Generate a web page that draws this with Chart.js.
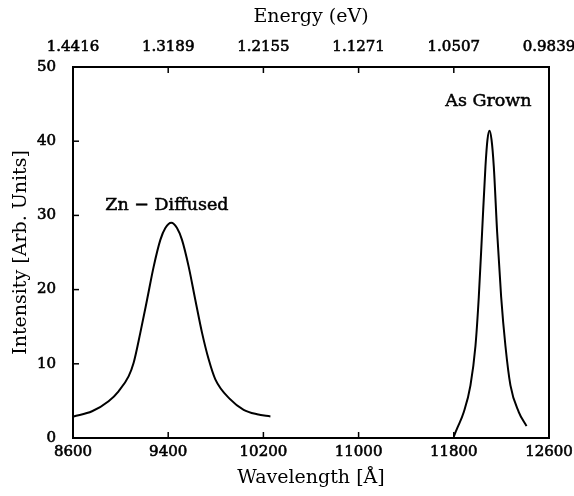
<!DOCTYPE html>
<html><head><meta charset="utf-8">
<script src="https://cdn.jsdelivr.net/npm/chart.js@4"></script>
<style>html,body{margin:0;padding:0;background:#fff}canvas{display:block}</style>
</head><body>
<canvas id="c" width="574" height="496"></canvas>
<script>
// Tick values / labels
const wavelengthTicks = [8600, 9400, 10200, 11000, 11800, 12600];
const energyTickLabels = ['1.4416', '1.3189', '1.2155', '1.1271', '1.0507', '0.9839'];
const intensityTicks = [0, 10, 20, 30, 40, 50];

// Zn - Diffused spectrum
const znWavelength = [8605, 8760, 8899, 8983, 9067, 9109, 9166, 9222, 9278, 9334, 9376, 9426, 9474, 9516, 9572, 9628, 9684, 9740, 9796, 9922, 10034, 10147, 10259];
const znIntensity  = [2.9, 3.6, 4.95, 6.3, 8.3, 10.1, 14.2, 18.6, 23.1, 26.7, 28.3, 29.0, 28.3, 26.7, 23.1, 18.6, 14.2, 10.6, 7.9, 5.2, 3.8, 3.2, 2.9];

// As Grown spectrum
const agWavelength = [11800, 11828, 11884, 11940, 11982, 12010, 12038, 12066, 12083, 12100, 12117, 12136, 12164, 12198, 12234, 12276, 12346, 12411];
const agIntensity  = [0.2, 1.3, 3.5, 7.1, 12.4, 19.0, 27.8, 36.6, 40.2, 41.4, 40.2, 36.6, 27.8, 19.0, 12.4, 7.1, 3.5, 1.6];

// Annotation labels (data coordinates)
const annotationText = ['Zn \u2212 Diffused', 'As Grown'];
const annotationWavelength = [9389, 12091];
const annotationIntensity = [31.4, 45.4];

const toPoints = (xs, ys) => xs.map((x, i) => ({x: x, y: ys[i]}));

const serif = '"DejaVu Serif", serif';
const tickFont = {family: serif, size: 15};
const titleFont = {family: serif, size: 19};
const tickStyle = {font: tickFont, color: '#000', textStrokeColor: '#000', textStrokeWidth: 0.6, autoSkip: false, maxRotation: 0};

const innerTicks = {
  id: 'innerTicks',
  afterDatasetsDraw(chart) {
    const {ctx, chartArea: a, scales} = chart;
    ctx.save();
    ctx.strokeStyle = '#000';
    ctx.lineWidth = 1.5;
    const L = 6;
    const seg = (x1, y1, x2, y2) => { ctx.beginPath(); ctx.moveTo(x1, y1); ctx.lineTo(x2, y2); ctx.stroke(); };
    wavelengthTicks.slice(1, -1).forEach(v => {
      const px = scales.x.getPixelForValue(v);
      seg(px, a.bottom, px, a.bottom - L);
      seg(px, a.top, px, a.top + L);
    });
    intensityTicks.slice(1, -1).forEach(v => {
      const py = scales.y.getPixelForValue(v);
      seg(a.left, py, a.left + L, py);
    });
    ctx.fillStyle = '#000';
    ctx.font = '17.5px ' + serif;
    ctx.textAlign = 'center';
    ctx.textBaseline = 'middle';
    ctx.lineWidth = 0.5;
    annotationText.forEach((t, i) => {
      const x = scales.x.getPixelForValue(annotationWavelength[i]);
      const y = scales.y.getPixelForValue(annotationIntensity[i]);
      ctx.fillText(t, x, y);
      ctx.strokeText(t, x, y);
    });
    ctx.restore();
  }
};

const border = {display: true, color: '#000', width: 2};
const noPad = s => { s.paddingLeft = 0; s.paddingRight = 0; s.paddingTop = 0; s.paddingBottom = 0; };

new Chart(document.getElementById('c'), {
  type: 'line',
  data: {
    datasets: [
      {label: 'Zn - Diffused', data: toPoints(znWavelength, znIntensity), borderColor: '#000', borderWidth: 2, pointRadius: 0, cubicInterpolationMode: 'monotone', fill: false},
      {label: 'As Grown', data: toPoints(agWavelength, agIntensity), borderColor: '#000', borderWidth: 2, pointRadius: 0, cubicInterpolationMode: 'monotone', fill: false}
    ]
  },
  options: {
    responsive: false,
    animation: false,
    devicePixelRatio: 1,
    layout: {padding: 0},
    plugins: {legend: {display: false}, tooltip: {enabled: false}},
    scales: {
      x: {
        type: 'linear', position: 'bottom', min: 8600, max: 12600,
        afterBuildTicks: s => { s.ticks = wavelengthTicks.map(v => ({value: v})); },
        ticks: Object.assign({padding: 5, callback: v => String(v)}, tickStyle),
        grid: {display: false, drawTicks: false},
        border: border,
        title: {display: true, text: 'Wavelength [\u00C5]', font: titleFont, color: '#000', padding: {top: 0, bottom: 7}},
        afterFit: s => { s.height = 58; noPad(s); }
      },
      x2: {
        type: 'linear', position: 'top', min: 8600, max: 12600,
        afterBuildTicks: s => { s.ticks = wavelengthTicks.map(v => ({value: v})); },
        ticks: Object.assign({padding: 11, callback: v => energyTickLabels[wavelengthTicks.indexOf(v)]}, tickStyle),
        grid: {display: false, drawTicks: false},
        border: border,
        title: {display: true, text: 'Energy (eV)', font: titleFont, color: '#000', padding: {top: 6, bottom: 0}},
        afterFit: s => { s.height = 67; noPad(s); }
      },
      y: {
        type: 'linear', position: 'left', min: 0, max: 50,
        afterBuildTicks: s => { s.ticks = intensityTicks.map(v => ({value: v})); },
        ticks: Object.assign({padding: 17}, tickStyle),
        grid: {display: false, drawTicks: false},
        border: border,
        title: {display: true, text: 'Intensity [Arb. Units]', font: titleFont, color: '#000', padding: {top: 10, bottom: 0}},
        afterFit: s => { s.width = 73; noPad(s); }
      },
      y2: {
        type: 'linear', position: 'right', min: 0, max: 50,
        ticks: {display: false},
        grid: {display: false, drawTicks: false},
        border: border,
        afterFit: s => { s.width = 25; noPad(s); }
      }
    }
  },
  plugins: [innerTicks]
});
</script>
</body></html>
